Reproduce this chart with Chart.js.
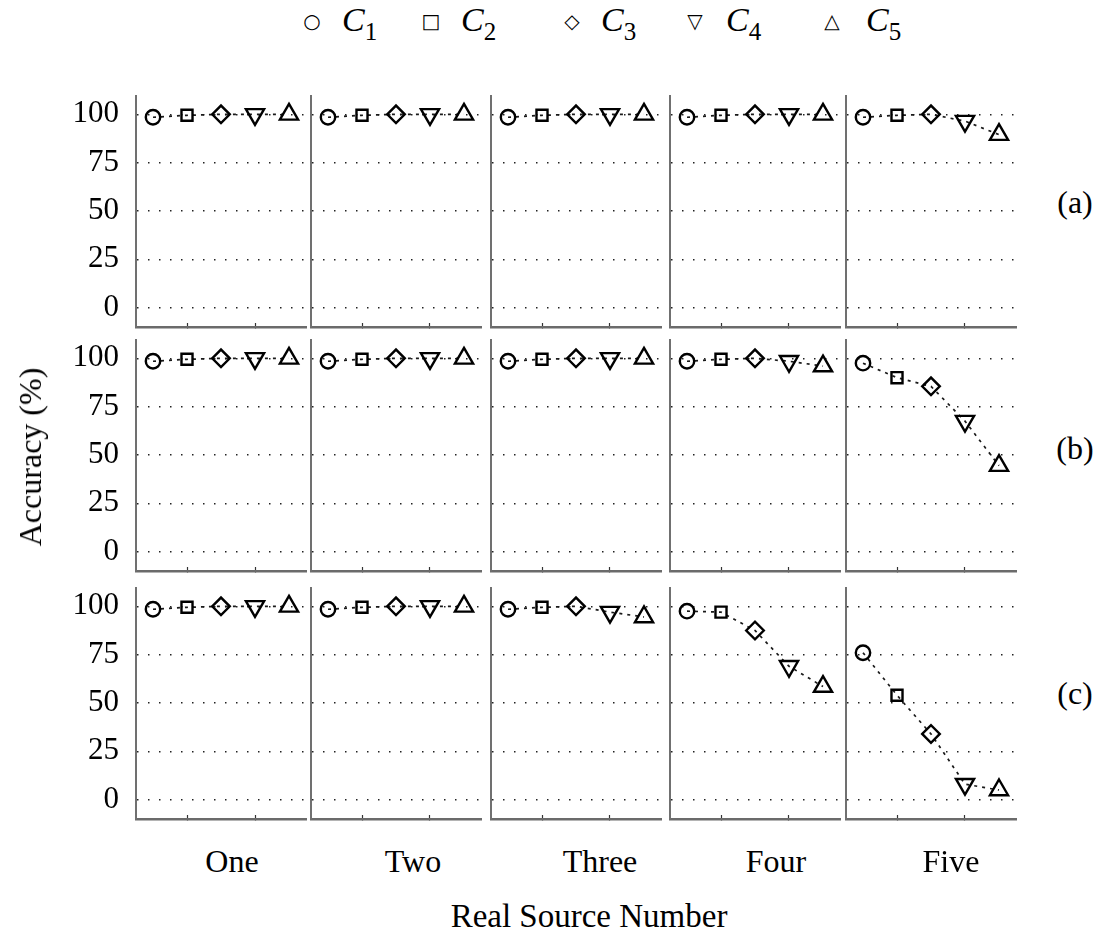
<!DOCTYPE html>
<html>
<head>
<meta charset="utf-8">
<script src="https://cdn.jsdelivr.net/npm/chart.js@4.4.0/dist/chart.umd.min.js"></script>
<style>
  body {
    margin: 0;
    background: #fff;
    font-family: 'Liberation Serif', 'Times New Roman', serif;
    color: #000;
  }
  #figure {
    position: relative;
    width: 1108px;
    height: 934px;
    overflow: hidden;
  }
  #figure canvas { position: absolute; }
  .txt {
    position: absolute;
    font-size: 32px;
    line-height: 32px;
    height: 32px;
    white-space: nowrap;
    transform: translate(-50%, -50%);
  }
  .legend-sym {
    position: absolute;
    font-family: 'DejaVu Sans', sans-serif;
    font-weight: bold;
    font-size: 20px;
    line-height: 20px;
    transform: translate(-50%, -50%);
  }
  .legend-lab {
    position: absolute;
    font-size: 34px;
    line-height: 34px;
    transform: translateY(-50%);
    white-space: nowrap;
  }
  .legend-lab sub {
    font-style: normal;
    font-size: 25px;
    vertical-align: -9px;
    line-height: 0;
  }
</style>
</head>
<body>
<div id="figure"></div>
<script>
// categories and labels
const sourceNames = ['One', 'Two', 'Three', 'Four', 'Five'];
const classNames = ['C1', 'C2', 'C3', 'C4', 'C5'];
const classSymbols = ['\u25CB', '\u25A1', '\u25C7', '\u25BD', '\u25B3'];
const rowNames = ['(a)', '(b)', '(c)'];
const yTickValues = [0, 25, 50, 75, 100];
const xTickValues = [2, 4];

// accuracy (%) of C1..C5, one array per real source number
const accuracyA = [
  [98.5, 99.5, 100, 100, 100],
  [98.5, 99.5, 100, 100, 100],
  [98.5, 99.5, 100, 100, 100],
  [98.5, 99.5, 100, 100, 100],
  [98.5, 99.5, 100, 96.5, 89.5],
];
const accuracyB = [
  [98.5, 99.5, 100, 100, 100],
  [98.5, 99.5, 100, 100, 100],
  [98.5, 99.5, 100, 100, 100],
  [98.5, 99.5, 100, 98.5, 96],
  [97.5, 90, 85.5, 67.5, 44.5],
];
const accuracyC = [
  [98.5, 99.5, 100, 100, 100],
  [98.5, 99.5, 100, 100, 100],
  [98.5, 99.5, 100, 97, 94.5],
  [97.5, 97, 87.5, 69, 58.5],
  [76, 54, 34, 8, 5],
];
const accuracyRows = [accuracyA, accuracyB, accuracyC];

// layout
const panelLeft = [136, 311, 491, 670, 846];
const panelWidth = 170;
const rowTop = [95, 339, 587];
const rowHeight = 232;
const xAxisHeight = 8;

const markerStyles = ['circle', 'rect', 'rectRot', 'triangle', 'triangle'];
const markerRotation = [0, 0, 0, 180, 0];
const markerRadius = [7.2, 7.8, 8.8, 10.5, 10.5];

const fontFamily = "'Liberation Serif', 'Times New Roman', serif";
Chart.defaults.font.family = fontFamily;

const figure = document.getElementById('figure');

function addText(text, x, y, extraStyle) {
  const el = document.createElement('div');
  el.className = 'txt';
  el.textContent = text;
  el.style.left = x + 'px';
  el.style.top = y + 'px';
  if (extraStyle) {
    Object.assign(el.style, extraStyle);
  }
  figure.appendChild(el);
  return el;
}

// keep the plot box exactly where the panel is, labels may overflow
function noScalePadding(scale) {
  scale.paddingTop = 0;
  scale.paddingBottom = 0;
  scale.paddingLeft = 0;
  scale.paddingRight = 0;
}

function buildPanel(row, col) {
  const values = accuracyRows[row][col];
  const axisW = col === 0 ? 90 : 4;
  const canvas = document.createElement('canvas');

  canvas.width = axisW + panelWidth + 3;
  canvas.height = rowHeight + xAxisHeight;
  canvas.style.left = (panelLeft[col] - axisW) + 'px';
  canvas.style.top = rowTop[row] + 'px';
  figure.appendChild(canvas);

  new Chart(canvas, {
    type: 'line',
    data: {
      datasets: [{
        label: sourceNames[col],
        data: values.map((v, i) => ({ x: i + 1, y: v })),
        borderColor: '#1a1a1a',
        borderWidth: 1.7,
        borderDash: [3, 5],
        pointStyle: markerStyles,
        rotation: markerRotation,
        pointRadius: markerRadius,
        pointBorderWidth: 2.4,
        pointBorderColor: '#000',
        pointBackgroundColor: 'rgba(0,0,0,0)',
        tension: 0,
      }],
    },
    options: {
      responsive: false,
      animation: false,
      events: [],
      layout: { autoPadding: false, padding: { left: 0, right: 3, top: 0, bottom: 0 } },
      plugins: {
        legend: { display: false },
        tooltip: { enabled: false },
      },
      scales: {
        x: {
          type: 'linear',
          min: 0.5,
          max: 5.5,
          afterBuildTicks: s => { s.ticks = xTickValues.map(v => ({ value: v })); },
          afterFit: s => { s.height = xAxisHeight; noScalePadding(s); },
          ticks: { display: false },
          grid: {
            drawOnChartArea: false,
            drawTicks: true,
            tickLength: -4,
            tickColor: '#333',
            tickWidth: 1.2,
          },
          border: { display: true, width: 2.5, color: '#6b6b6b' },
        },
        y: {
          type: 'linear',
          min: -10,
          max: 110,
          afterBuildTicks: s => { s.ticks = yTickValues.map(v => ({ value: v })); },
          afterFit: s => { s.width = axisW; noScalePadding(s); },
          ticks: {
            display: col === 0,
            color: '#000',
            padding: 17,
            font: { family: fontFamily, size: 31 },
          },
          grid: {
            drawTicks: false,
            color: '#222',
            lineWidth: 1.4,
          },
          border: { display: true, width: 2, color: '#707070', dash: [1.5, 9.5] },
        },
      },
    },
  });
}

for (let r = 0; r < rowNames.length; r++) {
  for (let c = 0; c < sourceNames.length; c++) {
    buildPanel(r, c);
  }
}

// legend
const legendSymX = [312, 431, 572, 695, 832];
const legendLabX = [342, 461, 601, 726, 866];
classNames.forEach((name, i) => {
  const sym = document.createElement('span');
  sym.className = 'legend-sym';
  sym.textContent = classSymbols[i];
  sym.style.left = legendSymX[i] + 'px';
  sym.style.top = '21px';
  figure.appendChild(sym);

  const lab = document.createElement('span');
  lab.className = 'legend-lab';
  lab.innerHTML = `<i>${name[0]}</i><sub>${name.slice(1)}</sub>`;
  lab.style.left = legendLabX[i] + 'px';
  lab.style.top = '20px';
  figure.appendChild(lab);
});

// source names under the bottom row
const sourceLabelX = [232, 413, 600, 776, 951];
sourceNames.forEach((name, i) => addText(name, sourceLabelX[i], 861));

// row tags
const rowLabelY = [202, 448, 693];
rowNames.forEach((name, i) => addText(name, 1075, rowLabelY[i]));

addText('Real Source Number', 589, 916, { fontSize: '33px' });
addText('Accuracy (%)', 30, 457, { transform: 'translate(-50%, -50%) rotate(-90deg)' });
</script>
</body>
</html>
